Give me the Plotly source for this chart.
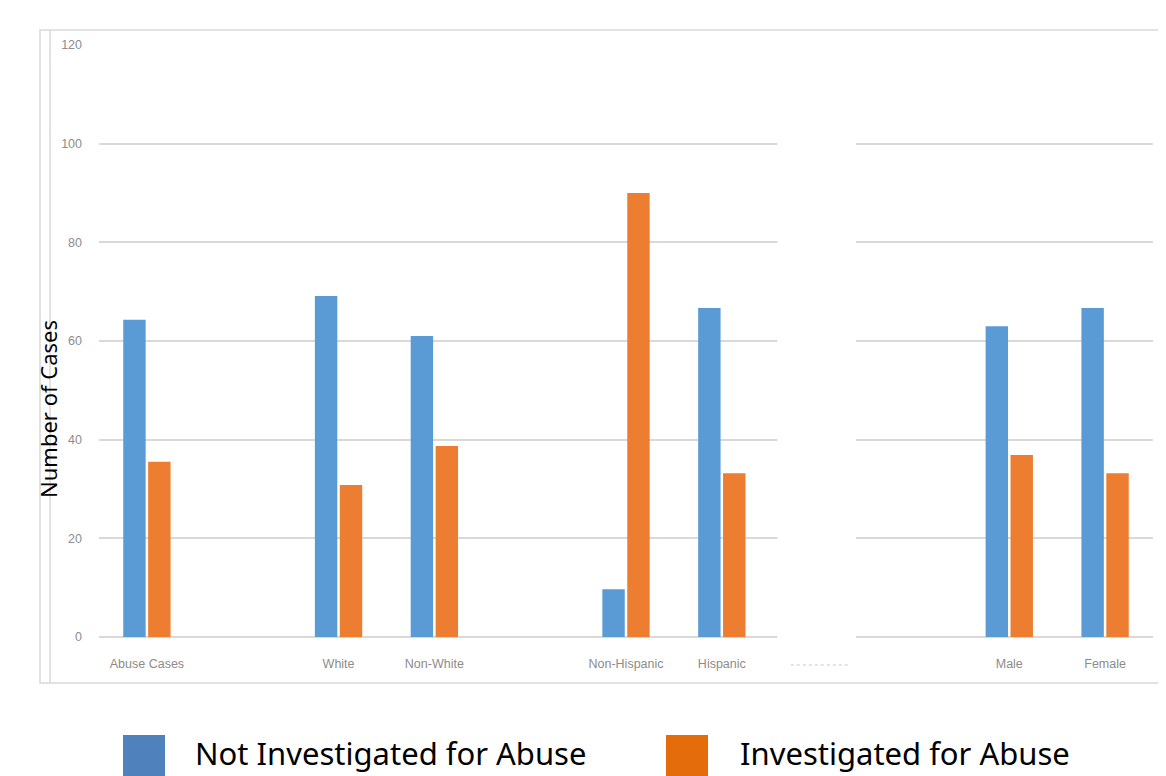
import plotly.graph_objects as go

categories = ["Abuse Cases", " ", "White", "Non-White", "  ", "Non-Hispanic", "Hispanic", "   ", "    ", "Male", "Female"]
not_investigated = [64.3, None, 69.1, 61.0, None, 9.7, 66.7, None, None, 63.0, 66.7]
investigated = [35.5, None, 30.8, 38.7, None, 90.0, 33.2, None, None, 36.9, 33.2]
y_ticks = [0, 20, 40, 60, 80, 100, 120]
series_names = ["Not Investigated for Abuse", "Investigated for Abuse"]

OFF = 8  # page body margin
W, H = 1166 - OFF, 776 - OFF
ml, mt = 99 - OFF, 45 - OFF
plot_right, plot_bottom = 1153 - OFF, 637 - OFF
mr, mb = W - plot_right, H - plot_bottom
pw, ph = W - ml - mr, H - mt - mb

def px(x):
    return (x - OFF - ml) / pw

def py(y):
    return (plot_bottom - (y - OFF)) / ph

fig = go.Figure()
fig.add_trace(go.Bar(x=categories, y=not_investigated, name=series_names[0],
                     marker=dict(color="#5B9BD5", line=dict(width=0))))
fig.add_trace(go.Bar(x=categories, y=investigated, name=series_names[1],
                     marker=dict(color="#ED7D31", line=dict(width=0))))

shapes = []
# outer frame
shapes.append(dict(type="rect", xref="paper", yref="paper",
                   x0=px(40), x1=px(1180), y0=py(683), y1=py(30),
                   line=dict(color="#D9D9D9", width=1.5), fillcolor="rgba(0,0,0,0)", layer="below"))
shapes.append(dict(type="line", xref="paper", yref="paper",
                   x0=px(50), x1=px(50), y0=py(683), y1=py(30),
                   line=dict(color="#D9D9D9", width=1.5)))
# white gap covering gridlines
shapes.append(dict(type="rect", xref="x", yref="paper",
                   x0=6.58, x1=7.4, y0=py(655), y1=py(35),
                   line=dict(width=0), fillcolor="white", layer="above"))
shapes.append(dict(type="line", xref="x", yref="paper",
                   x0=6.72, x1=7.32, y0=py(665), y1=py(665),
                   line=dict(color="#C8C8C8", width=1, dash="dot")))
# legend squares
shapes.append(dict(type="rect", xref="paper", yref="paper",
                   x0=px(123), x1=px(165), y0=py(790), y1=py(735),
                   line=dict(width=0), fillcolor="#4F81BD"))
shapes.append(dict(type="rect", xref="paper", yref="paper",
                   x0=px(666), x1=px(708), y0=py(790), y1=py(735),
                   line=dict(width=0), fillcolor="#E46C0A"))

annotations = [
    dict(text=series_names[0], xref="paper", yref="paper", x=px(193), y=py(776),
         xanchor="left", yanchor="bottom", showarrow=False,
         font=dict(family="Noto Sans", size=31, color="#000000")),
    dict(text=series_names[1], xref="paper", yref="paper", x=px(738), y=py(776),
         xanchor="left", yanchor="bottom", showarrow=False,
         font=dict(family="Noto Sans", size=31, color="#000000")),
    dict(text="Number of Cases", xref="paper", yref="paper", x=px(48), y=py(409),
         xanchor="center", yanchor="middle", showarrow=False, textangle=-90,
         font=dict(family="Noto Sans", size=22, color="#000000")),
]

fig.update_layout(
    width=W, height=H,
    margin=dict(l=ml, r=mr, t=mt, b=mb),
    paper_bgcolor="white", plot_bgcolor="white",
    barmode="group", bargap=0.48, bargroupgap=0.1,
    showlegend=False,
    shapes=shapes, annotations=annotations,
    xaxis=dict(type="category", categoryorder="array", categoryarray=categories,
               showgrid=False, showline=False, ticks="", zeroline=False,
               tickfont=dict(family="Liberation Sans", size=12.5, color="#8C8C8C"),
               ticklabelstandoff=17),
    yaxis=dict(range=[0, 120], tickvals=y_ticks, showgrid=True, gridcolor="#D9D9D9",
               gridwidth=1.5, zeroline=True, zerolinecolor="#D9D9D9", zerolinewidth=1.5,
               showline=False, ticks="",
               tickfont=dict(family="Liberation Sans", size=12.5, color="#8C8C8C"),
               ticklabelstandoff=16),
    font=dict(family="Liberation Sans"),
)

fig.write_html("out.html")
